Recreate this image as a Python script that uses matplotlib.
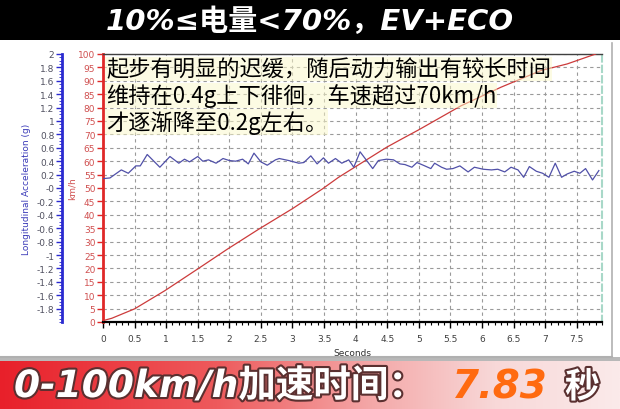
import numpy as np
import matplotlib
matplotlib.use("Agg")
import matplotlib.pyplot as plt
from matplotlib.patches import Rectangle
from matplotlib.colors import LinearSegmentedColormap
import matplotlib.patheffects as pe
from matplotlib.ticker import MultipleLocator, FormatStrFormatter

plt.rcParams['font.family'] = ['Noto Sans CJK SC', 'DejaVu Sans']

# ---------------- data ----------------
title_text = "10%≤电量<70%，EV+ECO"
note_lines = ["起步有明显的迟缓，随后动力输出有较长时间",
              "维持在0.4g上下徘徊，车速超过70km/h",
              "才逐渐降至0.2g左右。"]
banner_text = "0-100km/h加速时间："
banner_value = "7.83"
banner_unit = "秒"

speed_t = [0, 0.14, 0.5, 0.98, 1.5, 1.97, 2.47, 3.0, 3.47, 3.73, 4.49, 4.73,
           4.99, 5.67, 6.3, 6.93, 7.35, 7.8]
speed_v = [0.5, 1.4, 4.9, 11.7, 19.8, 27.2, 34.7, 42.3, 49.6, 54.0, 65.2, 68.3,
           71.6, 80.7, 87.6, 93.8, 96.3, 100.0]

acc_t = [0.0, 0.11, 0.29, 0.4, 0.52, 0.59, 0.70, 0.9, 1.06, 1.2, 1.29, 1.37,
         1.5, 1.58, 1.67, 1.79, 1.9, 2.0, 2.1, 2.21, 2.3, 2.39, 2.5, 2.6,
         2.73, 2.79, 2.94, 3.1, 3.18, 3.29, 3.39, 3.49, 3.57, 3.68, 3.78, 3.89,
         3.97, 4.07, 4.15, 4.27, 4.36, 4.49, 4.6, 4.7, 4.78, 4.89, 4.97, 5.07,
         5.19, 5.25, 5.36, 5.44, 5.54, 5.65, 5.78, 5.88, 6.02, 6.15, 6.25, 6.36,
         6.46, 6.57, 6.66, 6.75, 6.86, 6.96, 7.06, 7.16, 7.26, 7.35, 7.46, 7.55,
         7.64, 7.75, 7.85]
acc_g = [0.14, 0.15, 0.27, 0.22, 0.33, 0.33, 0.50, 0.31, 0.47, 0.37, 0.43, 0.39,
         0.47, 0.40, 0.42, 0.37, 0.44, 0.41, 0.40, 0.43, 0.36, 0.52, 0.39, 0.34,
         0.42, 0.44, 0.41, 0.37, 0.38, 0.48, 0.36, 0.45, 0.37, 0.44, 0.37, 0.42,
         0.31, 0.54, 0.44, 0.29, 0.41, 0.43, 0.42, 0.36, 0.35, 0.31, 0.38, 0.34,
         0.29, 0.37, 0.31, 0.28, 0.29, 0.33, 0.24, 0.31, 0.28, 0.27, 0.28, 0.24,
         0.31, 0.27, 0.16, 0.32, 0.25, 0.22, 0.16, 0.37, 0.16, 0.21, 0.25, 0.22,
         0.29, 0.12, 0.26]

x_ticks = [0, 0.5, 1, 1.5, 2, 2.5, 3, 3.5, 4, 4.5, 5, 5.5, 6, 6.5, 7, 7.5]

# ---------------- figure ----------------
W, H = 620, 410
fig = plt.figure(figsize=(6.2, 4.1), dpi=100)
fig.patch.set_facecolor('white')

latin_first = ['DejaVu Sans', 'Noto Sans CJK SC']

# top black band
fig.add_artist(Rectangle((0, 1 - 41 / H), 1, 41 / H, transform=fig.transFigure,
                         facecolor='black', edgecolor='none', zorder=0))
fig.text(0.5, 1 - 22 / H, title_text, color='white', fontsize=21,
         fontweight='bold', style='italic', ha='center', va='center',
         family=latin_first)

# light gray frame lines
fig.add_artist(plt.Line2D([612 / W, 612 / W], [1 - 358 / H, 1 - 44 / H],
                          transform=fig.transFigure, color='#b0b0b0', lw=1.2))
fig.add_artist(plt.Line2D([0, 612 / W], [1 - 358 / H, 1 - 358 / H],
                          transform=fig.transFigure, color='#b0b0b0', lw=1.5))

# main axes (speed)
ax = fig.add_axes([103 / W, 1 - 323 / H, (602 - 103) / W, (323 - 55) / H])
ax.set_xlim(0, 7.9)
ax.set_ylim(0, 100)
ax.set_xticks(x_ticks)
ax.set_xticklabels([f"{v:g}" for v in x_ticks])
ax.xaxis.set_minor_locator(MultipleLocator(0.1))
ax.yaxis.set_major_locator(MultipleLocator(5))
ax.grid(True, which='major', color='#9a9a9a', linestyle=(0, (3, 3)), lw=0.8)
ax.set_axisbelow(True)
ax.spines['top'].set_color('#404040')
ax.spines['top'].set_linewidth(1.0)
ax.spines['right'].set_color('#a8d8c8')
ax.spines['right'].set_linestyle((0, (3, 2)))
ax.spines['right'].set_linewidth(1.5)
ax.spines['left'].set_color('#e02828')
ax.spines['left'].set_linewidth(2.0)
ax.spines['bottom'].set_color('black')
ax.spines['bottom'].set_linewidth(1.6)
ax.tick_params(axis='y', colors='#e02828', labelcolor='#d05050', labelsize=6.5,
               length=4, width=1, pad=1.5, direction='out')
ax.tick_params(axis='x', colors='black', labelcolor='#404040', labelsize=6.5,
               length=4, width=1, pad=5)
ax.tick_params(axis='x', which='minor', length=2.5, width=0.8, colors='black')
ax.set_xlabel("Seconds", fontsize=6.5, color='#303030', labelpad=3,
              family=['DejaVu Sans'])
ax.set_ylabel("km/h", fontsize=6.5, color='#d05050', labelpad=1,
              family=['DejaVu Sans'])
for lab in ax.get_xticklabels() + ax.get_yticklabels():
    lab.set_family(['DejaVu Sans'])

ax.plot(speed_t, speed_v, color='#cc3b3b', lw=0.9, zorder=3)

# acceleration axis on the far left
ax2 = ax.twinx()
ax2.set_ylim(-2, 2)
ax2.yaxis.set_ticks_position('left')
ax2.yaxis.set_label_position('left')
ax2.spines['left'].set_position(('axes', -0.082))
ax2.spines['left'].set_visible(True)
ax2.spines['left'].set_color('#2a2ad0')
ax2.spines['left'].set_linewidth(2.0)
for s in ['right', 'top', 'bottom']:
    ax2.spines[s].set_visible(False)
ax2.set_yticks(np.round(np.arange(-1.8, 2.01, 0.2), 1))
ax2.yaxis.set_major_formatter(FormatStrFormatter('%g'))
ax2.yaxis.set_minor_locator(MultipleLocator(0.05))
ax2.tick_params(axis='y', colors='#2a2ad0', labelcolor='#505060', labelsize=6.5,
                length=4, width=1, pad=1.5)
ax2.tick_params(axis='y', which='minor', length=2, width=0.6, colors='#2a2ad0')
for lab in ax2.get_yticklabels():
    lab.set_family(['DejaVu Sans'])
ax2.set_ylabel("Longitudinal Acceleration (g)", fontsize=6.5, color='#3a3ab8',
               labelpad=4, family=['DejaVu Sans'])
ax2.plot(acc_t, acc_g, color='#5050a8', lw=0.9, zorder=3)

# annotation text
for i, line in enumerate(note_lines):
    fig.text(106 / W, 1 - (70 + 26.5 * i) / H, line, fontsize=16, color='black',
             ha='left', va='center', zorder=10,
             bbox=dict(facecolor='#fbf8c8', edgecolor='none', alpha=0.5, pad=0.5))

# bottom banner with gradient
bax = fig.add_axes([0, 0, 1, 48 / H])
bax.set_axis_off()
cmap = LinearSegmentedColormap.from_list(
    'banner', [(0.0, '#e8202a'), (0.35, '#ee5a5c'), (0.6, '#f4a8a8'),
               (0.8, '#f8d8d8'), (1.0, '#fbeaea')])
grad = np.linspace(0, 1, 256).reshape(1, -1)
bax.imshow(grad, aspect='auto', cmap=cmap, extent=[0, 1, 0, 1])
bax.set_xlim(0, 1)
bax.set_ylim(0, 1)
fig.add_artist(Rectangle((0, 48 / H), 1, 4 / H, transform=fig.transFigure,
                         facecolor='#8a8a8a', edgecolor='none', alpha=0.6))

outline = [pe.withStroke(linewidth=3, foreground='#5a3030')]
fig.text(14 / W, 22 / H, banner_text, fontsize=27, color='white',
         fontweight='bold', style='italic', ha='left', va='center',
         family=latin_first, path_effects=outline)
fig.text(452 / W, 22 / H, banner_value, fontsize=28, color='#ff6a10',
         fontweight='bold', style='italic', ha='left', va='center',
         family=['DejaVu Sans'])
fig.text(565 / W, 22 / H, banner_unit, fontsize=25, color='white',
         fontweight='bold', ha='left', va='center', path_effects=outline)

fig.savefig("out.png", dpi=100)
